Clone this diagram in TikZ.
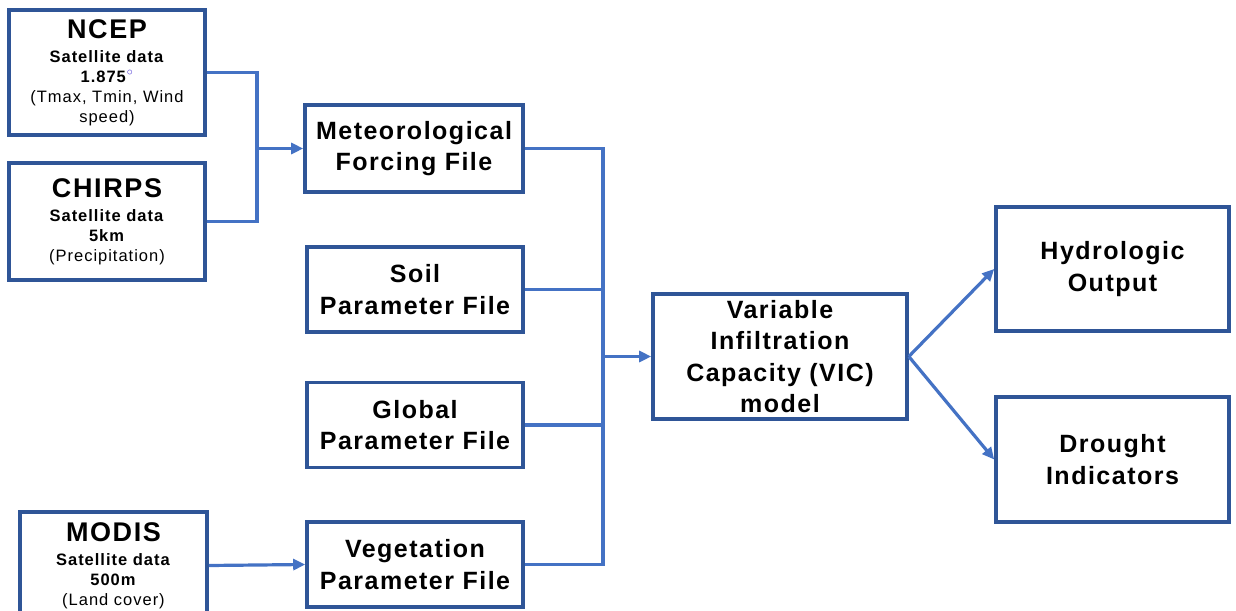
\documentclass[tikz,border=0pt]{standalone}
\usepackage{fontspec}
\setmainfont{Liberation Sans}[LetterSpace=6]
\usetikzlibrary{arrows.meta}
\definecolor{boxblue}{RGB}{47,85,151}
\definecolor{linkblue}{RGB}{68,114,196}
\definecolor{degblue}{RGB}{70,50,210}

\begin{document}
\begin{tikzpicture}[x=1pt,y=-1pt,
	box/.style={draw=boxblue,line width=3.6pt,fill=white,align=center,inner sep=0pt},
	src/.style={box,font=\fontsize{16.5}{20}\selectfont},
	file/.style={box,minimum width=216,minimum height=85,font=\fontsize{25}{31.5}\selectfont\bfseries},
	link/.style={draw=linkblue,line width=3.2pt},
	arr/.style={link,-{Triangle[length=12pt,width=11pt]}}]
	\useasboundingbox (0,0) rectangle (1236,610);
	\clip (0,0) rectangle (1236,610);
	
	% data sources
	\node[src,minimum width=196,minimum height=125] (ncep) at (107,72.5)
		{{\fontsize{27}{27}\selectfont\bfseries NCEP}\\[4pt]
		\textbf{Satellite data}\\
		\textbf{1.875}{\color{degblue}$^{\circ}$}\\
		(Tmax, Tmin, Wind\\ speed)};
	\node[src,minimum width=196,minimum height=117] (chirps) at (107,221.5)
		{{\fontsize{27}{27}\selectfont\bfseries CHIRPS}\\[4pt]
		\textbf{Satellite data}\\
		\textbf{5km}\\
		(Precipitation)};
	\node[src,minimum width=187,minimum height=107] (modis) at (113.5,565.5)
		{{\fontsize{27}{27}\selectfont\bfseries MODIS}\\[4pt]
		\textbf{Satellite data}\\
		\textbf{500m}\\
		(Land cover)};
	
	% input files
	\node[file,minimum width=218,minimum height=87] (met) at (414,148.5) {Meteorological\\Forcing File};
	\node[file] (soil) at (415,289.5) {Soil\\Parameter File};
	\node[file] (global) at (415,425) {Global\\Parameter File};
	\node[file] (veg) at (415,564.5) {Vegetation\\Parameter File};
	
	% model and outputs
	\node[file,minimum width=254,minimum height=125] (vic) at (780,356.5)
		{Variable\\Infiltration\\Capacity (VIC)\\model};
	\node[file,minimum width=233,minimum height=124] (hydro) at (1112.5,269) {Hydrologic\\Output};
	\node[file,minimum width=233,minimum height=125] (drought) at (1112.5,459.5) {Drought\\Indicators};
	
	\coordinate (j1) at (257,148.5);
	\coordinate (j2) at (603,356.5);
	
	\draw[link] (ncep.east) -| (j1);
	\draw[link] (chirps.east) -| (j1);
	\draw[arr] (j1) -- (met.west);
	
	\draw[link] (met.east) -| (j2);
	\draw[link] (soil.east) -| (j2);
	\draw[link] (global.east) -| (j2);
	\draw[link] (veg.east) -| (j2);
	\draw[arr] (j2) -- (vic.west);
	
	\draw[arr] (modis.east) -- (veg.west);
	
	\draw[arr] (vic.east) -- (hydro.west);
	\draw[arr] (vic.east) -- (drought.west);
\end{tikzpicture}
\end{document}
